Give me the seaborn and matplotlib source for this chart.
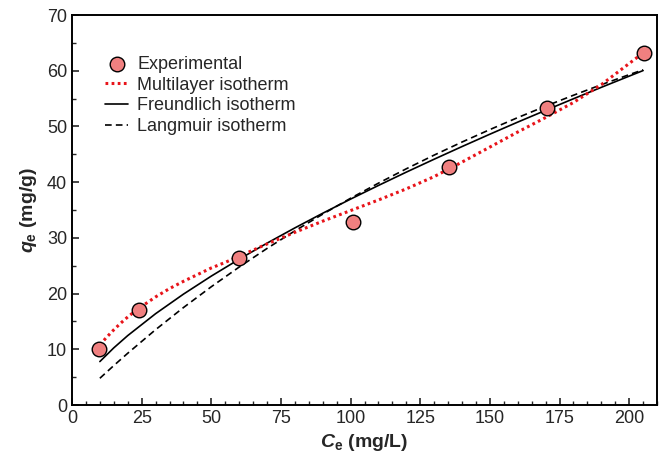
import numpy as np
import pandas as pd
import matplotlib
matplotlib.use("Agg")
import matplotlib.pyplot as plt
from matplotlib.ticker import MultipleLocator
import seaborn as sns

# Experimental data
ce_exp = [9.8, 24.2, 60.0, 101.0, 135.5, 170.4, 205.5]
qe_exp = [10.1, 17.1, 26.4, 32.9, 42.8, 53.3, 63.1]

# Multilayer isotherm
ce_multi = [10, 12.5, 15, 17.5, 20, 22.5, 25, 30, 35, 40, 45, 50, 55, 60, 70, 80, 90, 100, 110, 120, 130, 140, 150, 160, 170, 180, 190, 200, 205]
qe_multi = [10.8, 12.2, 13.5, 14.7, 15.8, 16.8, 17.7, 19.4, 20.9, 22.2, 23.4, 24.6, 25.6, 26.7, 28.9, 31.0, 33.0, 34.9, 36.8, 38.8, 41.0, 43.6, 46.3, 49.0, 51.6, 54.3, 57.5, 61.3, 63.2]

# Freundlich isotherm
ce_freu = [10, 15, 20, 30, 40, 50, 60, 70, 80, 90, 100, 110, 120, 130, 140, 150, 160, 170, 180, 190, 200, 205]
qe_freu = [7.80, 10.26, 12.46, 16.39, 19.90, 23.14, 26.17, 29.05, 31.79, 34.42, 36.96, 39.41, 41.80, 44.12, 46.39, 48.61, 50.78, 52.89, 54.97, 57.02, 59.03, 60.03]

# Langmuir isotherm
ce_lang = [10, 15, 20, 30, 40, 50, 60, 70, 80, 90, 100, 110, 120, 130, 140, 150, 160, 170, 180, 190, 200, 205]
qe_lang = [4.80, 7.08, 9.29, 13.52, 17.49, 21.23, 24.76, 28.10, 31.26, 34.26, 37.11, 39.82, 42.40, 44.86, 47.20, 49.44, 51.59, 53.64, 55.60, 57.49, 59.30, 60.17]

sns.set_style("white")
plt.rcParams['font.family'] = ['Liberation Sans', 'DejaVu Sans']
plt.rcParams['mathtext.fontset'] = 'custom'
plt.rcParams['mathtext.it'] = 'Liberation Sans:italic:bold'
plt.rcParams['mathtext.rm'] = 'Liberation Sans:bold'
plt.rcParams['mathtext.bf'] = 'Liberation Sans:bold'

fig = plt.figure(figsize=(6.63, 4.65), dpi=100)
ax = fig.add_axes([0.1086, 0.129, 0.8824, 0.8387])

df_m = pd.DataFrame({"Ce": ce_multi, "qe": qe_multi})
df_f = pd.DataFrame({"Ce": ce_freu, "qe": qe_freu})
df_l = pd.DataFrame({"Ce": ce_lang, "qe": qe_lang})
df_e = pd.DataFrame({"Ce": ce_exp, "qe": qe_exp})

sns.lineplot(data=df_l, x="Ce", y="qe", ax=ax, color="black", lw=1.2,
             linestyle=(0, (4, 2.5)), label="Langmuir isotherm", zorder=2)
sns.lineplot(data=df_f, x="Ce", y="qe", ax=ax, color="black", lw=1.2,
             label="Freundlich isotherm", zorder=2)
sns.lineplot(data=df_m, x="Ce", y="qe", ax=ax, color="#e8141a", lw=2.2,
             linestyle=(0, (0.9, 1.1)), label="Multilayer isotherm", zorder=3)
sns.scatterplot(data=df_e, x="Ce", y="qe", ax=ax, s=110, color="#f08080",
                edgecolor="black", linewidth=1.0, label="Experimental", zorder=4)

handles, labels = ax.get_legend_handles_labels()
order = ["Experimental", "Multilayer isotherm", "Freundlich isotherm", "Langmuir isotherm"]
hd = dict(zip(labels, handles))
leg = ax.legend([hd[o] for o in order], order, loc="upper left",
                bbox_to_anchor=(0.044, 0.913), frameon=False, fontsize=13,
                handlelength=1.3, handletextpad=0.5, labelspacing=0.2,
                borderaxespad=0.0)

ax.set_xlim(0, 210)
ax.set_ylim(0, 70)
ax.xaxis.set_major_locator(MultipleLocator(25))
ax.xaxis.set_minor_locator(MultipleLocator(5))
ax.yaxis.set_major_locator(MultipleLocator(10))
ax.yaxis.set_minor_locator(MultipleLocator(5))
ax.tick_params(which="major", direction="in", length=5, width=1.2,
               labelsize=13, bottom=True, left=True, top=False, right=False)
ax.tick_params(which="minor", direction="in", length=3, width=1.0,
               bottom=True, left=True, top=False, right=False)
for sp in ax.spines.values():
    sp.set_linewidth(1.4)
    sp.set_color("black")

ax.set_xlabel(r"$C_{\mathrm{e}}$ (mg/L)", fontsize=14, fontweight="bold", labelpad=4)
ax.set_ylabel(r"$q_{\mathrm{e}}$ (mg/g)", fontsize=14, fontweight="bold", labelpad=6)

fig.savefig("out.png", dpi=100)
